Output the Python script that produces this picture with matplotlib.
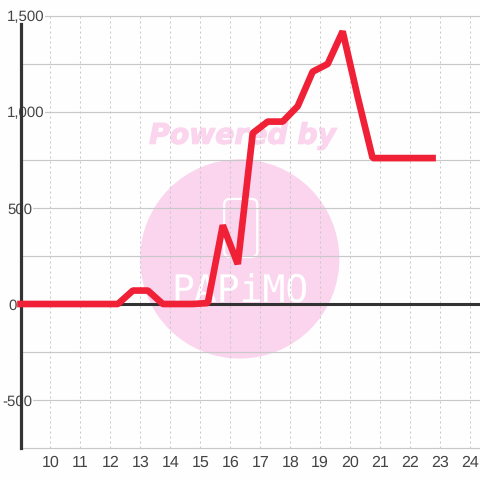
import numpy as np
import matplotlib
matplotlib.use("Agg")
import matplotlib.pyplot as plt
import matplotlib.patheffects as pe
from matplotlib.patches import Circle, FancyBboxPatch

plt.rcParams["font.family"] = ["Liberation Sans", "DejaVu Sans"]
plt.rcParams["text.hinting"] = "no_hinting"
plt.rcParams["text.hinting_factor"] = 1

# half-hour samples between 9:15 and 22:45
hours = [9.0, 9.25, 9.75, 10.25, 10.75, 11.25, 11.75, 12.25, 12.75, 13.25, 13.75, 14.25,
         14.75, 15.25, 15.75, 16.25, 16.75, 17.25, 17.75, 18.25, 18.75, 19.25,
         19.75, 20.25, 20.75, 21.25, 21.75, 22.25, 22.75]
values = [0, 0, 0, 0, 0, 0, 0, 0, 70, 70, 0, 0, 0, 5, 410, 208, 890, 950, 950, 1030,
          1210, 1250, 1420, 1080, 760, 760, 760, 760, 760]
x_ticks = list(range(10, 25))
y_major = [-500, 0, 500, 1000, 1500]
y_labels = ["-500", "0", "500", "1,000", "1,500"]
y_pads = [13.0, 8.6, 9.7, 9.7, 9.7]
y_minor = [-750, -250, 250, 750, 1250]

INK = "#333333"
GRID = "#c8c8c8"
PINK = "#fbd5ee"

fig = plt.figure(figsize=(4.8, 4.8), dpi=100, facecolor="#fefefe")

# watermark sits behind the axes
fig.add_artist(Circle((0.4995, 0.4605), 0.2075, transform=fig.transFigure, fc=PINK, ec="none", zorder=-5))
fig.text(0.504, 0.7165, "Powered by", family="DejaVu Sans", weight="bold", style="italic",
         fontsize=20.3, color=PINK, ha="center", va="center", zorder=-5,
         path_effects=[pe.withStroke(linewidth=0.9, foreground=PINK)])
fig.add_artist(FancyBboxPatch((0.467, 0.4646), 0.069, 0.121, boxstyle="round,pad=0,rounding_size=0.012",
                              transform=fig.transFigure, fc="none", ec="white", lw=1.6, zorder=-4))
fig.text(0.5, 0.392, "PAPiMO", family="DejaVu Sans Mono", fontsize=27, color="white",
         ha="center", va="center", zorder=-4)

ax = fig.add_axes([20.5 / 480, 32 / 480, 459.5 / 480, 432 / 480], facecolor="none")
ax.set_xlim(9, 24 + 1 / 3)
ax.set_ylim(-750, 1500)

ax.set_xticks(x_ticks)
ax.set_yticks(y_major, y_labels)
ax.set_yticks(y_minor, minor=True)
ax.grid(axis="x", color=GRID, lw=0.75, ls=(0, (1.9, 2.9)), zorder=1)
ax.grid(axis="y", which="both", color=GRID, lw=0.85, zorder=1, clip_on=False)
ax.tick_params(axis="both", which="both", length=0)
ax.tick_params(axis="x", labelsize=11.2, labelcolor="#444444", pad=5)
ax.tick_params(axis="y", labelsize=11, labelcolor="#444444")

for tick, pad in zip(ax.yaxis.get_major_ticks(), y_pads):
    tick.set_pad(pad)
for label in ax.get_yticklabels():
    label.set_ha("left")
    label.set_bbox(dict(fc="#fefefe", ec="none", pad=0.5))
    label.set_zorder(6)

for side in ["top", "right", "bottom"]:
    ax.spines[side].set_visible(False)
ax.spines["left"].set_color(INK)
ax.spines["left"].set_linewidth(2.3)
ax.spines["left"].set_bounds(-750, 1460)
ax.set_axisbelow(True)

ax.axhline(0, color=INK, lw=2.2, zorder=3)
ax.plot(hours, values, color="#f02037", lw=4.8, solid_joinstyle="bevel",
        solid_capstyle="projecting", zorder=4, clip_on=False)

fig.savefig("out.png", dpi=100, facecolor=fig.get_facecolor())
